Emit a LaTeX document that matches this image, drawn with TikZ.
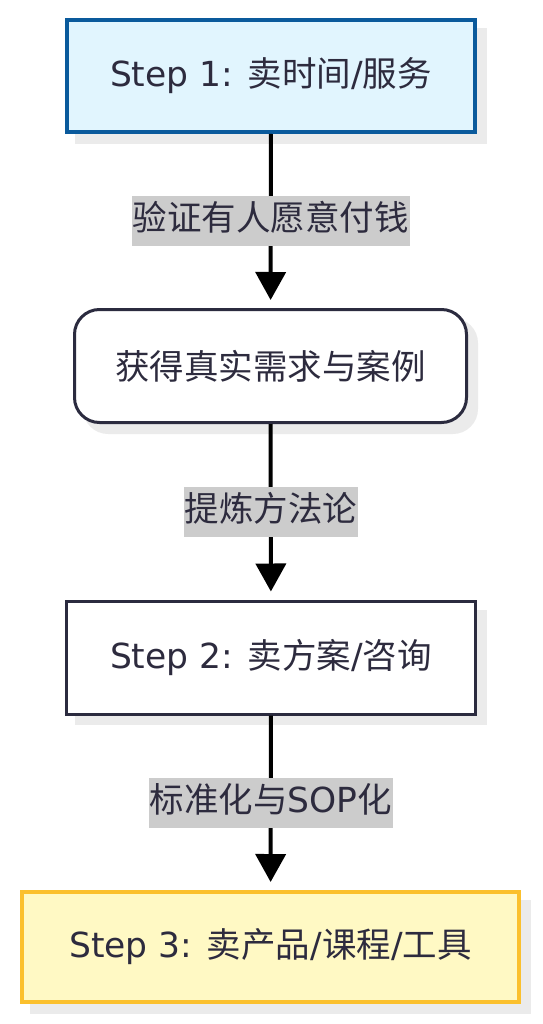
\documentclass[tikz,border=0pt]{standalone}
\usepackage{fontspec}
\setmainfont{Noto Sans CJK SC}
\newfontfamily\lat{DejaVu Sans}
\usetikzlibrary{arrows.meta}
\definecolor{txt}{HTML}{2D2B3E}
\definecolor{b1fill}{HTML}{E1F5FE}
\definecolor{b1line}{HTML}{0A5A9C}
\definecolor{b4fill}{HTML}{FFF9C4}
\definecolor{b4line}{HTML}{FBC02D}
\definecolor{dark}{HTML}{2B2B3F}
\definecolor{shad}{HTML}{EBEBEB}
\definecolor{lblbg}{HTML}{CCCCCC}
\tikzset{
  box/.style={draw=dark, line width=3pt, fill=white, text=txt, minimum height=113pt,
    font=\fontsize{34.5}{40}\selectfont, inner sep=0pt},
  lbl/.style={fill=lblbg, text=txt, font=\fontsize{34.5}{40}\selectfont,
    inner xsep=1pt, inner ysep=8pt, text height=27pt, text depth=7pt},
  conn/.style={line width=4pt, draw=black, -{Triangle[width=30pt,length=28pt]}, shorten >=8pt},
}
\begin{document}
\begin{tikzpicture}[x=1pt,y=-1pt]
\useasboundingbox (0,0) rectangle (542,1024);
% shadows
\fill[shad] (75,28) rectangle (487,144);
\fill[shad, rounded corners=25pt] (83,318) rectangle (478,434);
\fill[shad] (75,610) rectangle (487,725);
\fill[shad] (30,900) rectangle (531,1014);
% nodes
\node[box, draw=b1line, fill=b1fill, line width=4pt, minimum width=408pt, minimum height=112pt] (b1) at (271,76) {{\lat Step 1: }卖时间{\lat /}服务};
\node[box, rounded corners=25pt, minimum width=392pt] (b2) at (270.5,366) {获得真实需求与案例};
\node[box, minimum width=409pt] (b3) at (271,657.5) {{\lat Step 2: }卖方案{\lat /}咨询};
\node[box, draw=b4line, fill=b4fill, line width=4pt, minimum width=497pt, minimum height=110pt] (b4) at (270.5,947) {{\lat Step 3: }卖产品{\lat /}课程{\lat /}工具};
% connectors
\draw[conn] (b1) -- node[lbl] {验证有人愿意付钱} (b2);
\draw[conn] (b2) -- node[lbl] {提炼方法论} (b3);
\draw[conn] (b3) -- node[lbl] {标准化与{\lat SOP}化} (b4);
\end{tikzpicture}
\end{document}
